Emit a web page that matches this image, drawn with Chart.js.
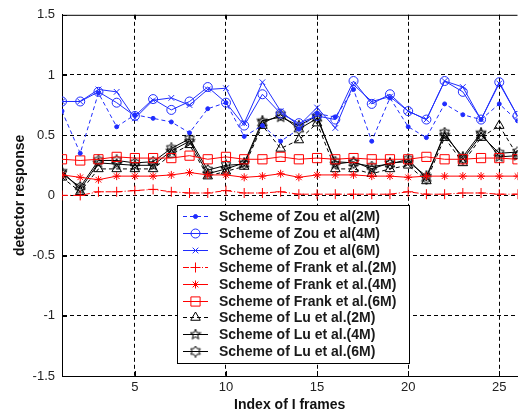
<!DOCTYPE html>
<html>
<head>
<meta charset="utf-8">
<script src="https://cdn.jsdelivr.net/npm/chart.js@4"></script>
<style>
  html, body { margin: 0; padding: 0; background: #fff; }
  #wrap { width: 525px; height: 417px; }
</style>
</head>
<body>
<div id="wrap"><canvas id="chart" width="525" height="417"></canvas></div>
<script>
// values
const frames = [1, 2, 3, 4, 5, 6, 7, 8, 9, 10, 11, 12, 13, 14, 15, 16, 17, 18, 19, 20, 21, 22, 23, 24, 25, 26];
const zou2M = [0.70, 0.35, 0.85, 0.57, 0.67, 0.64, 0.61, 0.52, 0.72, 0.77, 0.49, 0.58, 0.45, 0.55, 0.68, 0.65, 0.88, 0.45, 0.81, 0.57, 0.48, 0.76, 0.67, 0.63, 0.76, 0.62];
const zou4M = [0.78, 0.78, 0.86, 0.77, 0.66, 0.80, 0.71, 0.78, 0.90, 0.77, 0.58, 0.84, 0.68, 0.60, 0.66, 0.63, 0.95, 0.76, 0.84, 0.70, 0.63, 0.95, 0.86, 0.63, 0.94, 0.66];
const zou6M = [0.78, 0.78, 0.88, 0.86, 0.64, 0.79, 0.81, 0.75, 0.88, 0.89, 0.60, 0.94, 0.70, 0.58, 0.73, 0.56, 0.92, 0.78, 0.82, 0.70, 0.63, 0.95, 0.90, 0.63, 0.93, 0.66];
const frank2M = [0.00, 0.00, 0.03, 0.03, 0.04, 0.05, 0.03, 0.02, 0.02, 0.04, 0.02, 0.02, 0.03, 0.01, 0.01, 0.01, 0.01, 0.01, 0.01, 0.03, 0.01, 0.01, 0.02, 0.02, 0.01, 0.01];
const frank4M = [0.17, 0.15, 0.13, 0.16, 0.16, 0.16, 0.17, 0.19, 0.17, 0.17, 0.15, 0.16, 0.18, 0.15, 0.17, 0.17, 0.17, 0.16, 0.16, 0.15, 0.16, 0.16, 0.16, 0.16, 0.16, 0.16];
const frank6M = [0.30, 0.29, 0.30, 0.32, 0.31, 0.31, 0.31, 0.33, 0.30, 0.32, 0.30, 0.30, 0.32, 0.30, 0.31, 0.30, 0.31, 0.30, 0.30, 0.30, 0.32, 0.30, 0.30, 0.31, 0.31, 0.30];
const lu2M = [0.15, 0.03, 0.22, 0.22, 0.22, 0.22, 0.34, 0.42, 0.16, 0.20, 0.24, 0.58, 0.39, 0.46, 0.60, 0.22, 0.22, 0.18, 0.22, 0.25, 0.12, 0.48, 0.27, 0.48, 0.58, 0.33];
const lu4M = [0.20, 0.05, 0.27, 0.26, 0.25, 0.25, 0.37, 0.45, 0.18, 0.22, 0.27, 0.62, 0.65, 0.58, 0.66, 0.26, 0.28, 0.22, 0.27, 0.28, 0.16, 0.50, 0.32, 0.52, 0.32, 0.33];
const lu6M = [0.18, 0.07, 0.29, 0.29, 0.27, 0.28, 0.39, 0.47, 0.21, 0.25, 0.26, 0.60, 0.67, 0.55, 0.64, 0.28, 0.27, 0.24, 0.26, 0.30, 0.14, 0.52, 0.30, 0.50, 0.35, 0.36];
const xTicks = [5, 10, 15, 20, 25];
const seriesNames = [
  "Scheme of Zou et al(2M)",
  "Scheme of Zou et al(4M)",
  "Scheme of Zou et al(6M)",
  "Scheme of Frank et al.(2M)",
  "Scheme of Frank et al.(4M)",
  "Scheme of Frank et al.(6M)",
  "Scheme of Lu et al.(2M)",
  "Scheme of Lu et al.(4M)",
  "Scheme of Lu et al.(6M)"
];

const FONT = '"Liberation Sans", Arial, sans-serif';
const BLUE = "#1f2cff";
const RED = "#ff0000";
const NONE = "rgba(0,0,0,0)";

// pentagram / hexagram markers like matlab 'p' and 'h'
function starMarker(n, size, inner) {
  const c = document.createElement("canvas");
  c.width = c.height = size;
  const g = c.getContext("2d");
  const cx = size / 2, cy = size / 2, ro = size / 2 - 0.5, ri = ro * inner;
  g.beginPath();
  for (let i = 0; i < 2 * n; i++) {
    const a = -Math.PI / 2 + i * Math.PI / n;
    const r = i % 2 ? ri : ro;
    const px = cx + r * Math.cos(a), py = cy + r * Math.sin(a);
    if (i === 0) g.moveTo(px, py); else g.lineTo(px, py);
  }
  g.closePath();
  g.strokeStyle = "#000";
  g.lineWidth = 1;
  g.stroke();
  return c;
}
const pentagram = starMarker(5, 12, 0.42);
const hexagram = starMarker(6, 12, 0.6);

function pts(values) {
  return frames.map((f, i) => ({ x: f, y: values[i] }));
}

function series(label, values, color, style, radius, dash, fill) {
  return {
    label: label,
    data: pts(values),
    borderColor: color,
    borderWidth: 1,
    borderDash: dash,
    pointStyle: style,
    pointRadius: radius,
    pointHoverRadius: radius,
    pointBorderColor: color,
    pointBackgroundColor: fill || NONE,
    pointBorderWidth: 1,
    tension: 0,
    fill: false
  };
}

const datasets = [
  series(seriesNames[0], zou2M, BLUE, "circle", 2, [4, 3], BLUE),
  series(seriesNames[1], zou4M, BLUE, "circle", 4.5, []),
  series(seriesNames[2], zou6M, BLUE, "crossRot", 4, []),
  series(seriesNames[3], frank2M, RED, "cross", 5, [6, 2, 1, 2]),
  series(seriesNames[4], frank4M, RED, "star", 4, []),
  series(seriesNames[5], frank6M, RED, "rect", 6.5, []),
  series(seriesNames[6], lu2M, "#000", "triangle", 5.5, [4, 3]),
  series(seriesNames[7], lu4M, "#000", pentagram, 6, []),
  series(seriesNames[8], lu6M, "#000", hexagram, 6, [])
];

// top border, inward ticks and the boxed legend inside the axes
const frameAndLegend = {
  id: "frameAndLegend",
  beforeDatasetsDraw(chart) {
    const { ctx, chartArea: a, scales } = chart;
    ctx.save();
    ctx.strokeStyle = "#000";
    ctx.lineWidth = 1;
    ctx.setLineDash([]);
    ctx.beginPath();
    ctx.moveTo(a.left, a.top + 0.5);
    ctx.lineTo(a.right, a.top + 0.5);
    xTicks.forEach(v => {
      const px = Math.round(scales.x.getPixelForValue(v)) + 0.5;
      ctx.moveTo(px, a.bottom); ctx.lineTo(px, a.bottom - 5);
      ctx.moveTo(px, a.top); ctx.lineTo(px, a.top + 5);
    });
    scales.y.ticks.forEach(t => {
      const py = Math.round(scales.y.getPixelForValue(t.value)) + 0.5;
      ctx.moveTo(a.left, py); ctx.lineTo(a.left + 5, py);
    });
    ctx.stroke();
    ctx.restore();
  },
  afterDraw(chart) {
    const ctx = chart.ctx;
    const bx = 177.5, by = 205.5, bw = 232, bh = 158, rowH = 16.9, y0 = 216;
    ctx.save();
    ctx.fillStyle = "#fff";
    ctx.fillRect(bx, by, bw, bh);
    ctx.strokeStyle = "#000";
    ctx.lineWidth = 1;
    ctx.setLineDash([]);
    ctx.strokeRect(bx, by, bw, bh);
    chart.data.datasets.forEach((ds, i) => {
      const y = Math.round(y0 + i * rowH) + 0.5;
      ctx.save();
      ctx.strokeStyle = ds.borderColor;
      ctx.lineWidth = 1;
      ctx.setLineDash(ds.borderDash || []);
      ctx.beginPath();
      ctx.moveTo(183, y);
      ctx.lineTo(208, y);
      ctx.stroke();
      ctx.setLineDash([]);
      ctx.fillStyle = ds.pointBackgroundColor;
      ctx.strokeStyle = ds.pointBorderColor;
      Chart.helpers.drawPoint(ctx, {
        pointStyle: ds.pointStyle,
        radius: ds.pointRadius,
        rotation: 0,
        borderWidth: 1
      }, 195.5, y);
      ctx.restore();
      ctx.fillStyle = "#1a1a1a";
      ctx.font = "bold 14px " + FONT;
      ctx.textBaseline = "middle";
      ctx.textAlign = "left";
      ctx.fillText(ds.label, 219, y + 0.5);
    });
    ctx.restore();
  }
};

new Chart(document.getElementById("chart"), {
  type: "line",
  data: { datasets: datasets },
  options: {
    responsive: false,
    animation: false,
    devicePixelRatio: 1,
    layout: { padding: { top: 10, right: 0, left: 0, bottom: 0 } },
    plugins: {
      legend: { display: false },
      tooltip: { enabled: false }
    },
    scales: {
      x: {
        type: "linear",
        min: 1,
        max: 26,
        afterFit: s => { s.height = 41; },
        afterBuildTicks: s => { s.ticks = xTicks.map(v => ({ value: v })); },
        grid: { color: "#000", lineWidth: 1, drawTicks: false },
        border: { display: true, color: "#000", width: 1, dash: [4, 3] },
        ticks: { color: "#222", font: { family: FONT, size: 13 }, padding: 4, maxRotation: 0 },
        title: {
          display: true,
          text: "Index of I frames",
          color: "#111",
          font: { family: FONT, size: 14, weight: "bold" },
          padding: { top: 0, bottom: 3 }
        }
      },
      y: {
        min: -1.5,
        max: 1.5,
        afterFit: s => { s.width = 62; },
        grid: {
          color: c => (c.tick && Math.abs(c.tick.value) === 1.5 ? NONE : "#000"),
          lineWidth: 1,
          drawTicks: false
        },
        border: { display: true, color: "#000", width: 1, dash: [4, 3] },
        ticks: {
          stepSize: 0.5,
          color: "#222",
          font: { family: FONT, size: 13 },
          padding: 7,
          callback: v => String(v)
        },
        title: {
          display: true,
          text: "detector response",
          color: "#111",
          font: { family: FONT, size: 14, weight: "bold" },
          padding: { top: 12, bottom: 0 }
        }
      }
    }
  },
  plugins: [frameAndLegend]
});
</script>
</body>
</html>
